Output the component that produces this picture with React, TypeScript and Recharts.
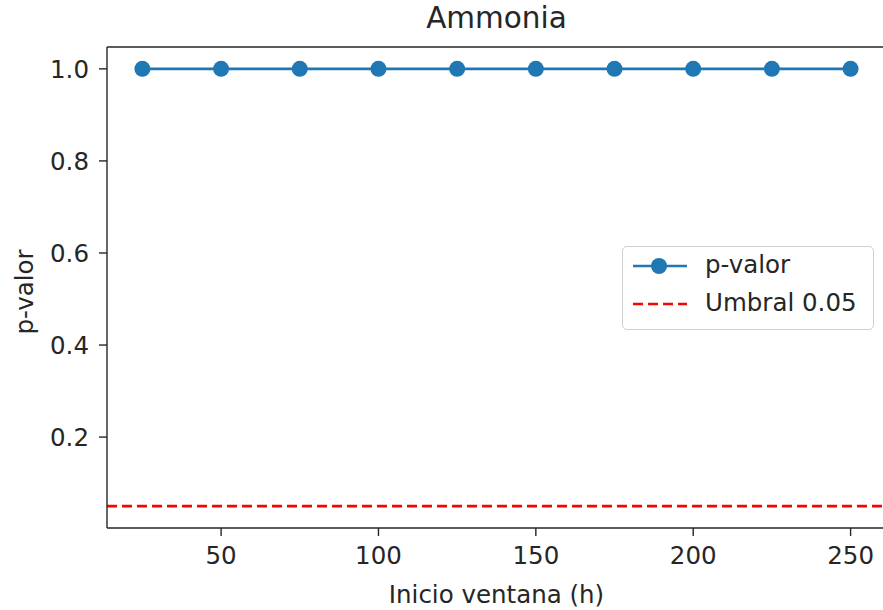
import React from "react";
import {
  LineChart,
  Line,
  XAxis,
  YAxis,
  ReferenceLine,
} from "recharts";

// p-value of the test for each window start (hours)
const windowStarts = [25, 50, 75, 100, 125, 150, 175, 200, 225, 250];
const pValues = [1.0, 1.0, 1.0, 1.0, 1.0, 1.0, 1.0, 1.0, 1.0, 1.0];
const THRESHOLD = 0.05;

const xTicks = [50, 100, 150, 200, 250];
const yTicks = [0.2, 0.4, 0.6, 0.8, 1.0];

// axis limits with the usual 5% padding around the data
const X_DOMAIN = [13.75, 261.25];
const Y_DOMAIN = [0.0025, 1.0475];

const data = windowStarts.map((start, i) => ({ start, p: pValues[i] }));

const BLUE = "#1f77b4";
const RED = "#ff0000";
const INK = "#262626";
const FONT = "'DejaVu Sans', sans-serif";
const FS = 24.5;

const W = 900;
const H = 610;

function LegendBox() {
  return (
    <div
      style={{
        position: "absolute",
        left: 622,
        top: 246,
        width: 252,
        height: 84,
        border: "1.5px solid #d0d0d0",
        borderRadius: 5,
        background: "rgba(255,255,255,0.8)",
        fontFamily: FONT,
        fontSize: FS,
        color: INK,
        boxSizing: "border-box",
      }}
    >
      <svg width={60} height={84} style={{ position: "absolute", left: 8, top: 0 }}>
        <line x1={2} y1={19} x2={56} y2={19} stroke={BLUE} strokeWidth={2.6} />
        <circle cx={28} cy={19} r={8} fill={BLUE} />
        <line
          x1={2}
          y1={57}
          x2={56}
          y2={57}
          stroke={RED}
          strokeWidth={2.6}
          strokeDasharray="10 5"
        />
      </svg>
      <div style={{ position: "absolute", left: 82, top: 3, lineHeight: "30px" }}>p-valor</div>
      <div style={{ position: "absolute", left: 82, top: 41, lineHeight: "30px" }}>
        Umbral 0.05
      </div>
    </div>
  );
}

export default function App() {
  const tickStyle = { fontSize: FS, fill: INK, fontFamily: FONT };
  return (
    <div
      style={{
        position: "fixed",
        left: 0,
        top: 0,
        width: 883,
        height: 610,
        overflow: "hidden",
        background: "#fff",
      }}
    >
      <div
        style={{
          position: "absolute",
          left: 107,
          width: 779,
          top: 1,
          textAlign: "center",
          fontFamily: FONT,
          fontSize: 29.5,
          color: INK,
          lineHeight: "normal",
        }}
      >
        Ammonia
      </div>
      <div
        style={{
          position: "absolute",
          left: 107,
          width: 779,
          top: 580,
          textAlign: "center",
          fontFamily: FONT,
          fontSize: FS,
          color: INK,
          lineHeight: "normal",
        }}
      >
        Inicio ventana (h)
      </div>
      <div
        style={{
          position: "absolute",
          left: 24,
          top: 292,
          transform: "translate(-50%, -50%) rotate(-90deg)",
          fontFamily: FONT,
          fontSize: FS,
          color: INK,
          whiteSpace: "nowrap",
        }}
      >
        p-valor
      </div>
      <div style={{ position: "absolute", left: 0, top: 0 }}>
        <LineChart
          width={W}
          height={H}
          data={data}
          margin={{ top: 47, right: W - 886, bottom: 0, left: 0 }}
        >
          <XAxis
            dataKey="start"
            type="number"
            domain={X_DOMAIN}
            ticks={xTicks}
            allowDataOverflow
            height={82}
            tick={tickStyle}
            tickSize={8}
            tickMargin={11}
            stroke={INK}
            strokeWidth={1.4}
          />
          <YAxis
            type="number"
            domain={Y_DOMAIN}
            ticks={yTicks}
            allowDataOverflow
            width={107}
            tick={tickStyle}
            tickSize={8}
            tickMargin={10}
            tickFormatter={(v: number) => v.toFixed(1)}
            stroke={INK}
            strokeWidth={1.4}
          />
          {/* top spine */}
          <ReferenceLine y={Y_DOMAIN[1]} stroke={INK} strokeWidth={1.4} />
          <ReferenceLine
            y={THRESHOLD}
            stroke={RED}
            strokeWidth={2.6}
            strokeDasharray="10 5"
          />
          <Line
            dataKey="p"
            stroke={BLUE}
            strokeWidth={2.6}
            dot={{ r: 8, fill: BLUE, stroke: BLUE, strokeWidth: 0 }}
            isAnimationActive={false}
          />
        </LineChart>
      </div>
      <LegendBox />
    </div>
  );
}
